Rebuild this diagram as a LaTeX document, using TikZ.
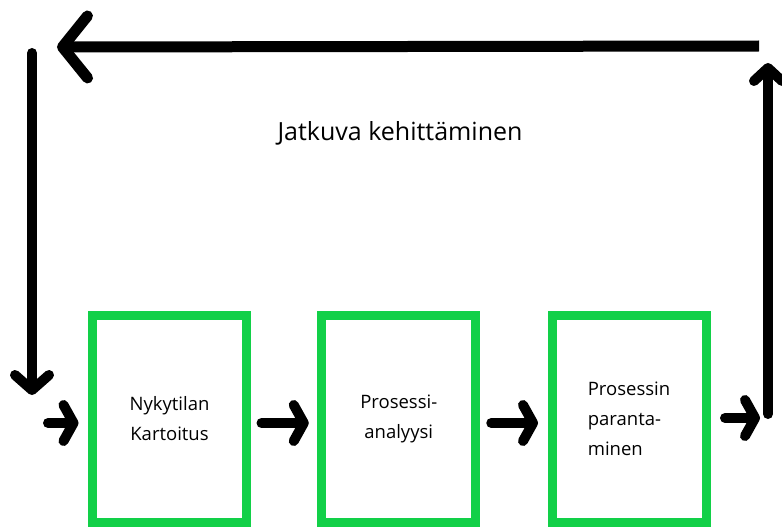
\documentclass[tikz,border=0pt]{standalone}
\usepackage{fontspec}
\setmainfont{Open Sans}
\usetikzlibrary{arrows.meta}
\definecolor{stagegreen}{RGB}{18,208,72}
\begin{document}
\begin{tikzpicture}[x=1pt,y=-1pt,
  stage/.style={draw=stagegreen, line width=9pt, minimum width=154pt,
    minimum height=207pt, inner sep=0pt, align=center,
    font=\fontsize{18.5}{30}\selectfont},
  flow/.style={line width=10pt, line cap=round,
    -{Straight Barb[length=10pt,width=36pt,round]}},
  loopline/.style={line width=10pt}]
\useasboundingbox (0,0) rectangle (782,527);

% process stages
\node[stage] (s1) at (169.5,419) {Nykytilan\\Kartoitus};
\node[stage] (s2) at (398.75,419) {Prosessi-\\analyysi};
\node[stage, align=left] (s3) at (629,419) {Prosessin\\paranta-\\minen};

% loop caption
\node[font=\fontsize{25}{30}\selectfont] (title) at (400,133) {Jatkuva kehittäminen};

% free ends of the feedback loop
\coordinate (inStart) at (48,423);
\coordinate (rb) at (768,414);
\coordinate (rt) at (768,63);
\coordinate (tr) at (759,46);
\coordinate (tl) at (57,47);
\coordinate (lt) at (32,53);
\coordinate (lb) at (32,395);

% forward flow between stages
\draw[flow, shorten >=9.5pt] (inStart) -- (inStart -| s1.west);
\draw[flow, shorten <=10.5pt, shorten >=8.5pt] (s1.east |- 0,423) -- (s2.west |- 0,423);
\draw[flow, shorten <=11pt, shorten >=9.5pt] (s2.east |- 0,423) -- (s3.west |- 0,423);
\draw[flow, shorten <=14.5pt, shorten >=8pt] (s3.east |- 0,418) -- (rb |- 0,418);

% feedback loop
\draw[loopline, line cap=round, -{Straight Barb[length=13pt,width=28pt,round]}] (rb) -- (rt);
\draw[loopline, line width=11pt, -{Straight Barb[length=25pt,width=62pt,round]}] (tr) -- (tl);
\draw[loopline, line cap=round, -{Straight Barb[length=15pt,width=34pt,round]}] (lt) -- (lb);
\end{tikzpicture}
\end{document}
